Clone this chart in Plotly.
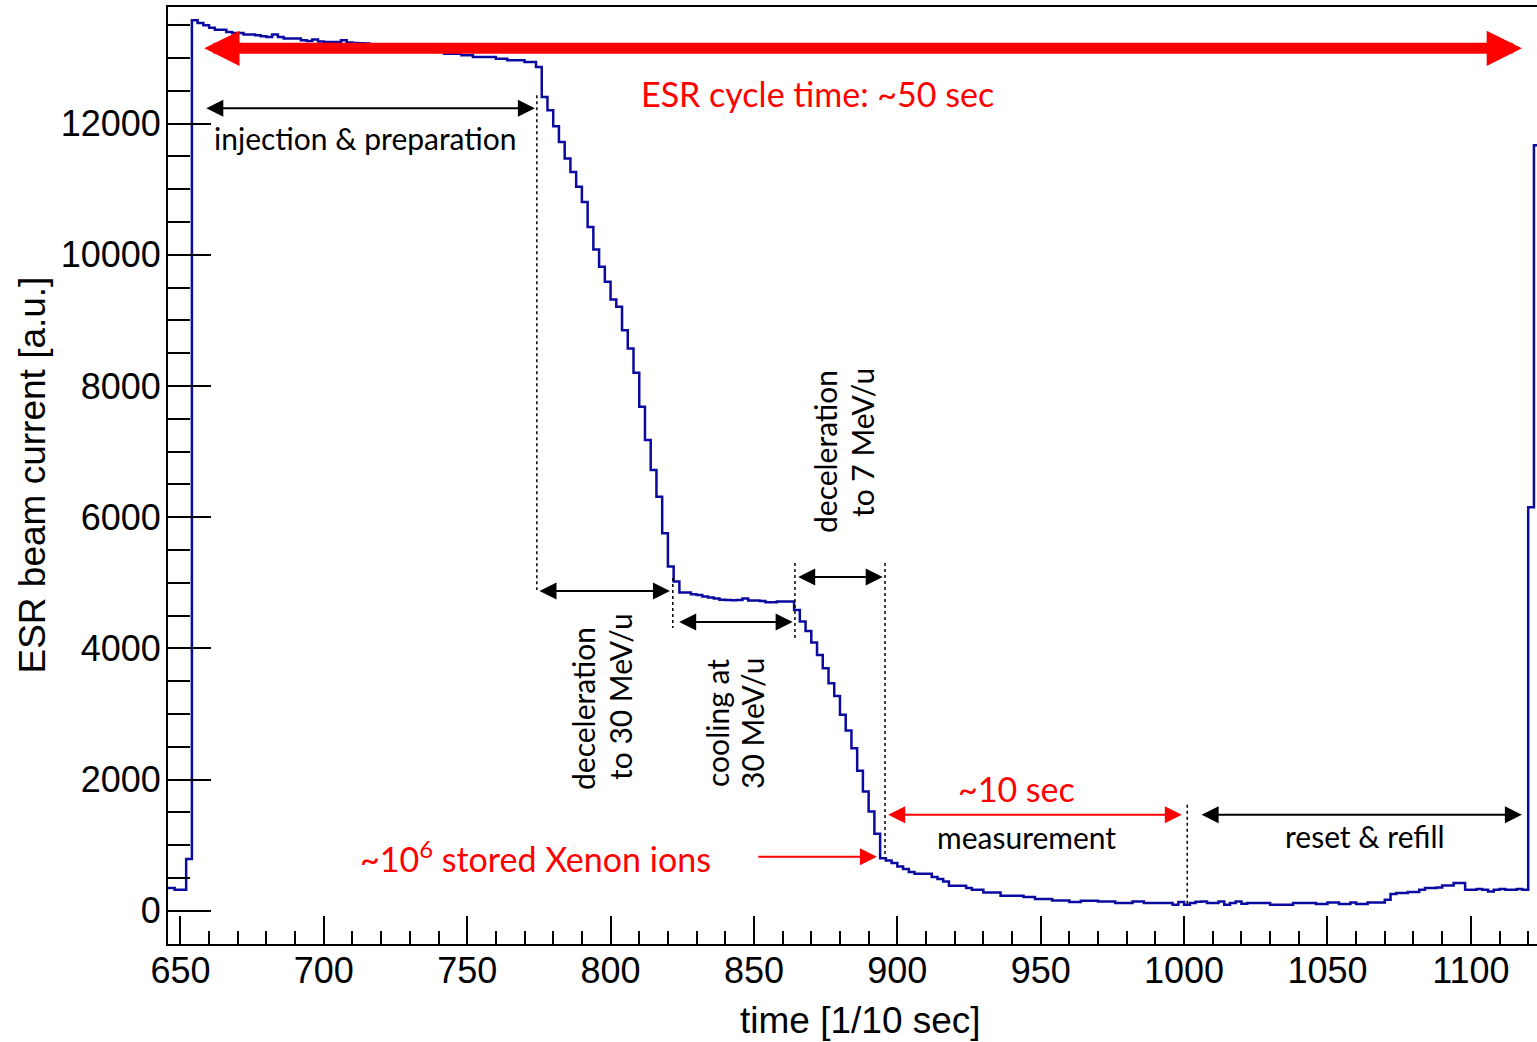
import plotly.graph_objects as go

# ---------------- data ----------------
bin_start = 644          # left edge of the first bin [1/10 sec]
bin_width = 2            # bin width [1/10 sec]
current = [
    345, 345, 320, 320, 787, 13574, 13533, 13498, 13462, 13432,
    13432, 13396, 13381, 13381, 13356, 13356, 13346, 13330, 13320, 13356,
    13320, 13295, 13295, 13295, 13270, 13260, 13280, 13250, 13244, 13244,
    13244, 13270, 13235, 13230, 13225, 13220, 13210, 13205, 13200, 13190,
    13185, 13180, 13170, 13160, 13150, 13140, 13130, 13110, 13090, 13066,
    13066, 13066, 13041, 13041, 13015, 13015, 13015, 13015, 12990, 12990,
    12964, 12964, 12964, 12939, 12939, 12863, 12406, 12203, 11959, 11720,
    11466, 11263, 11035, 10806, 10425, 10080, 9816, 9588, 9319, 9207,
    8851, 8572, 8201, 7683, 7176, 6718, 6312, 5754, 5246, 5018,
    4850, 4850, 4825, 4815, 4790, 4775, 4760, 4740, 4738, 4735,
    4738, 4760, 4728, 4728, 4720, 4703, 4703, 4713, 4713, 4713,
    4586, 4408, 4266, 4088, 3900, 3697, 3468, 3275, 2986, 2747,
    2478, 2133, 1818, 1513, 1173, 802, 767, 726, 675, 635,
    589, 564, 564, 564, 513, 483, 447, 381, 381, 381,
    345, 320, 320, 279, 279, 279, 229, 229, 229, 229,
    208, 208, 178, 178, 178, 157, 157, 157, 132, 132,
    152, 152, 152, 142, 142, 142, 117, 117, 117, 142,
    142, 117, 117, 117, 117, 117, 91, 132, 91, 117,
    137, 142, 117, 117, 142, 91, 117, 142, 107, 117,
    117, 117, 117, 91, 91, 91, 91, 117, 117, 117,
    117, 102, 102, 127, 127, 102, 102, 127, 102, 102,
    127, 127, 127, 168, 254, 269, 269, 284, 284, 320,
    345, 345, 356, 386, 386, 422, 422, 320, 320, 330,
    320, 294, 320, 330, 320, 320, 330, 320, 6150, 11670,
]
x_ticks_major = [650, 700, 750, 800, 850, 900, 950, 1000, 1050, 1100]
y_ticks_major = [0, 2000, 4000, 6000, 8000, 10000, 12000]

# bin edges for a step ("histogram") drawing
edges = [bin_start + bin_width * i for i in range(len(current) + 1)]
step_y = current + [current[-1]]

X_RANGE = [645.67, 1123.07]
Y_RANGE = [-507, 13777]

fig = go.Figure()
fig.add_trace(go.Scatter(
    x=edges, y=step_y, mode="lines", line_shape="hv",
    line=dict(color="#0a0aa0", width=2.5), hoverinfo="skip", showlegend=False,
))

TXT_FONT = "Lato"
BLACK = "black"
RED = "#ff0000"

annotations = []
shapes = []


def double_arrow(x0, x1, y, color, width, size):
    annotations.append(dict(
        x=x1, y=y, ax=x0, ay=y, xref="x", yref="y", axref="x", ayref="y",
        text="", showarrow=True, arrowside="end+start",
        arrowhead=2, startarrowhead=2, arrowsize=size, startarrowsize=size,
        arrowwidth=width, arrowcolor=color,
    ))


def single_arrow(x0, x1, y, color, width, size):
    annotations.append(dict(
        x=x1, y=y, ax=x0, ay=y, xref="x", yref="y", axref="x", ayref="y",
        text="", showarrow=True, arrowside="end",
        arrowhead=2, arrowsize=size, arrowwidth=width, arrowcolor=color,
    ))


def label(x, y, text, color, size, angle=0):
    annotations.append(dict(
        x=x, y=y, xref="x", yref="y", text=text, showarrow=False,
        textangle=angle, xanchor="center", yanchor="middle",
        font=dict(family=TXT_FONT, size=size, color=color),
    ))


def vdots(x, y0, y1):
    shapes.append(dict(type="line", xref="x", yref="y", x0=x, x1=x, y0=y0, y1=y1,
                       line=dict(color="black", width=1.5, dash="dot")))


# dotted separators
vdots(774.3, 12431, 4890)
vdots(821.7, 5073, 4311)
vdots(864.3, 5302, 4159)
vdots(895.7, 5302, 807)
vdots(1001.1, 1615, 91)

# big red cycle arrow
double_arrow(657.8, 1117.8, 13147, RED, 11, 0.64)
# black phase arrows
double_arrow(658.5, 773.6, 12233, BLACK, 2, 1.7)
double_arrow(774.7, 820.7, 4875, BLACK, 2, 1.7)
double_arrow(823.4, 863.5, 4403, BLACK, 2, 1.7)
double_arrow(864.9, 894.9, 5088, BLACK, 2, 1.7)
double_arrow(1005.6, 1117.8, 1463, BLACK, 2, 1.7)
# red measurement arrow and ion-count arrow
double_arrow(896.3, 999.2, 1463, RED, 2, 1.7)
single_arrow(851.0, 892.9, 823, RED, 2, 1.7)

# texts
label(872.0, 12466, "ESR cycle time: ~50 sec", RED, 34)
label(714.4, 11780, "injection &amp; preparation", BLACK, 30)
label(941.4, 1871, "~10 sec", RED, 34)
label(944.9, 1124, "measurement", BLACK, 30)
label(1063.1, 1139, "reset &amp; refill", BLACK, 30)
label(773.65, 820, "~10<sup>6</sup> stored Xenon ions", RED, 34)
label(790.4, 3076, "deceleration", BLACK, 30, -90)
label(803.3, 3259, "to 30 MeV/u", BLACK, 30, -90)
label(837.1, 2862, "cooling at", BLACK, 30, -90)
label(849.3, 2862, "30 MeV/u", BLACK, 30, -90)
label(874.8, 6994, "deceleration", BLACK, 30, -90)
label(887.7, 7131, "to 7 MeV/u", BLACK, 30, -90)

# axis titles (placed as annotations for exact position)
AX_FONT = "Liberation Sans"
annotations.append(dict(
    x=0, y=0.5, xref="paper", yref="paper", xanchor="center", yanchor="middle",
    xshift=-136, text="ESR beam current [a.u.]", textangle=-90, showarrow=False,
    font=dict(family=AX_FONT, size=37, color="black"),
))
annotations.append(dict(
    x=0.5055, y=0, xref="paper", yref="paper", xanchor="center", yanchor="middle",
    yshift=-76, text="time [1/10 sec]", showarrow=False,
    font=dict(family=AX_FONT, size=37, color="black"),
))

fig.update_layout(
    width=1537, height=1042,
    margin=dict(l=168, r=0, t=7, b=98, pad=0),
    paper_bgcolor="white", plot_bgcolor="white",
    annotations=annotations, shapes=shapes,
    xaxis=dict(
        range=X_RANGE, tickmode="array", tickvals=x_ticks_major,
        ticktext=[str(v) for v in x_ticks_major],
        ticks="inside", ticklen=28, tickwidth=2, tickcolor="black",
        minor=dict(dtick=10, tick0=650, ticks="inside", ticklen=13, tickwidth=2, tickcolor="black"),
        showline=True, linecolor="black", linewidth=2, mirror=True,
        showgrid=False, zeroline=False, ticklabelstandoff=-6,
        tickfont=dict(family=AX_FONT, size=36, color="black"),
    ),
    yaxis=dict(
        range=Y_RANGE, tickmode="array", tickvals=y_ticks_major,
        ticktext=[str(v) for v in y_ticks_major],
        ticks="inside", ticklen=43, tickwidth=2, tickcolor="black",
        minor=dict(dtick=500, tick0=0, ticks="inside", ticklen=22, tickwidth=2, tickcolor="black"),
        showline=True, linecolor="black", linewidth=2, mirror=False,
        showgrid=False, zeroline=False, ticklabelstandoff=-2,
        tickfont=dict(family=AX_FONT, size=36, color="black"),
    ),
)

fig.write_html("out.html", config={"displayModeBar": False},
               post_script="document.body.style.margin='0';")
